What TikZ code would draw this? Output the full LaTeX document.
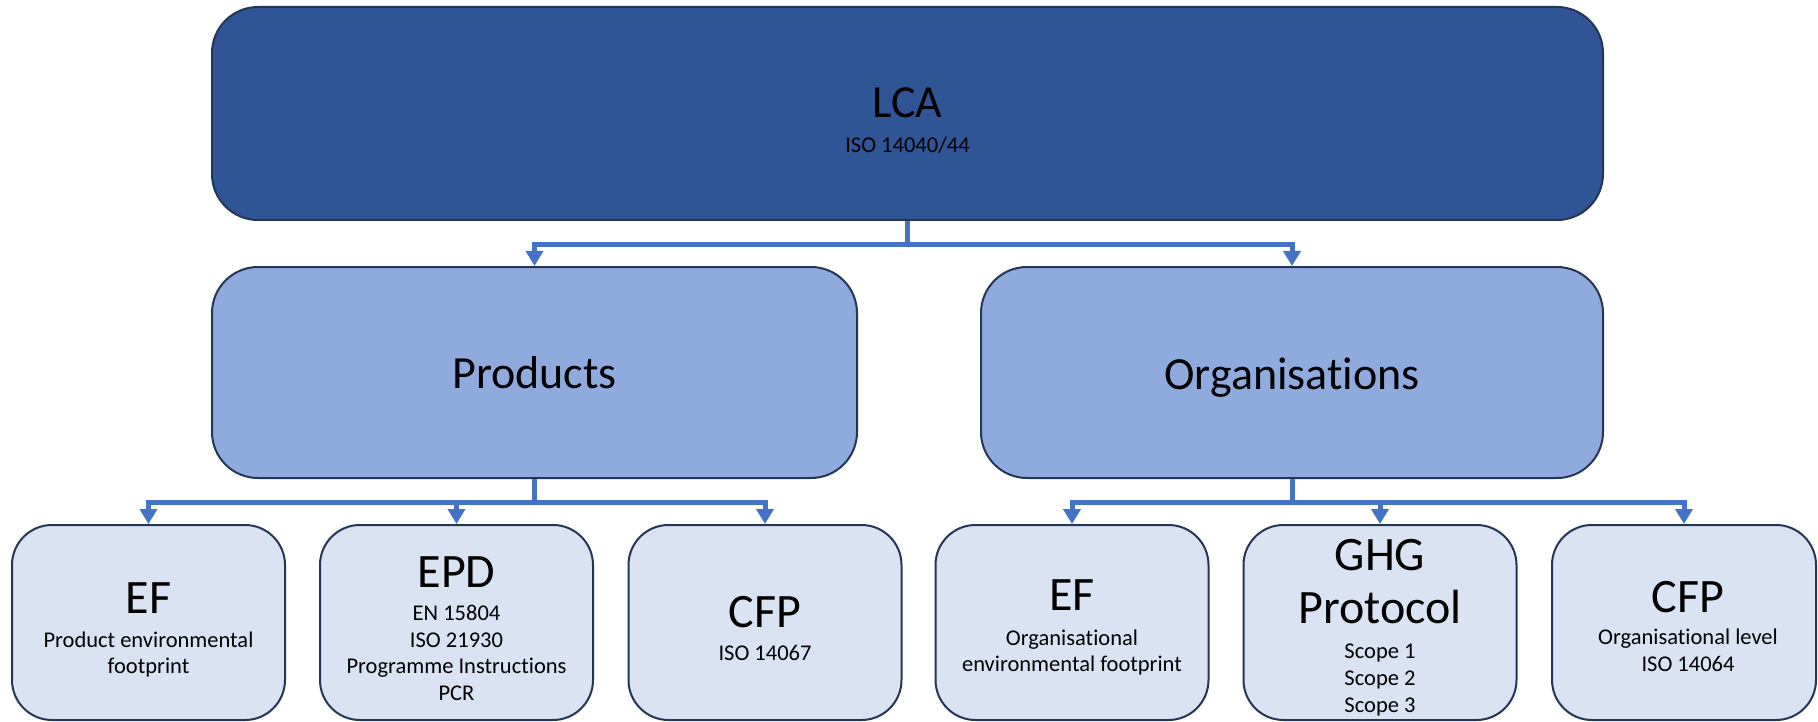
\documentclass[tikz,border=0pt]{standalone}
\usepackage{fontspec}
\setmainfont{Carlito}[RawFeature={-liga}]
\usetikzlibrary{arrows.meta}
\definecolor{lcafill}{HTML}{2F5597}
\definecolor{midfill}{HTML}{8FAADC}
\definecolor{lowfill}{HTML}{DAE3F3}
\definecolor{edgecol}{HTML}{243656}
\definecolor{conncol}{HTML}{4472C4}
\newcommand\fbig{\fontsize{46}{55}\selectfont}
\newcommand\ftitle{\fontsize{48}{57}\selectfont}
\newcommand\fsub{\fontsize{22.5}{27}\selectfont}
\tikzset{
  boxbase/.style={draw=edgecol, line width=2pt, inner sep=0pt},
  lcabox/.style={boxbase, fill=lcafill, rounded corners=46pt, minimum width=1391pt, minimum height=213pt},
  midbox/.style={boxbase, fill=midfill, rounded corners=46pt, minimum height=211pt},
  lowbox/.style={boxbase, fill=lowfill, rounded corners=40pt, minimum width=273pt, minimum height=195pt},
  txt/.style={anchor=base, inner sep=0pt, text=black},
  conn/.style={draw=conncol, line width=5pt},
  connarrow/.style={conn, -{Triangle[width=17pt,length=15pt]}},
}
\begin{document}
\begin{tikzpicture}[x=1pt,y=-1pt]
\useasboundingbox (0,0) rectangle (1818,722);
\clip (0,0) rectangle (1818,722);
\fill[white] (0,0) rectangle (1818,722);

% top
\node[lcabox] (lca) at (907.5,113.5) {};
\node[txt, font=\fbig] (lcaT) at (907.5,118) {LCA};
\node[txt, font=\fsub] (lcaS) at (907.5,153) {ISO 14040/44};

% middle
\node[midbox, minimum width=645pt] (prod) at (534.5,372.5) {};
\node[txt, font=\fbig] (prodT) at (534.5,388) {Products};
\node[midbox, minimum width=622pt] (org) at (1292,372.5) {};
\node[txt, font=\fbig] (orgT) at (1292,389) {Organisations};

% bottom boxes
\node[lowbox] (ef1) at (148.5,622.5) {};
\node[lowbox] (epd) at (456.5,622.5) {};
\node[lowbox] (cfp1) at (765,622.5) {};
\node[lowbox] (ef2) at (1072,622.5) {};
\node[lowbox] (ghg) at (1380,622.5) {};
\node[lowbox, minimum width=264pt] (cfp2) at (1684,622.5) {};

% bottom texts
\node[txt, font=\ftitle] (ef1T) at (148.5,613) {EF};
\node[txt, font=\fsub] (ef1S1) at (148.5,647) {Product environmental};
\node[txt, font=\fsub] (ef1S2) at (148.5,673) {footprint};

\node[txt, font=\ftitle] (epdT) at (456.5,587) {EPD};
\node[txt, font=\fsub] (epdS1) at (456.5,620) {EN 15804};
\node[txt, font=\fsub] (epdS2) at (456.5,647) {ISO 21930};
\node[txt, font=\fsub] (epdS3) at (456.5,673) {Programme Instructions};
\node[txt, font=\fsub] (epdS4) at (456.5,700) {PCR};

\node[txt, font=\ftitle] (cfp1T) at (765,627) {CFP};
\node[txt, font=\fsub] (cfp1S) at (765,660) {ISO 14067};

\node[txt, font=\ftitle] (ef2T) at (1072,610) {EF};
\node[txt, font=\fsub] (ef2S1) at (1072,645) {Organisational};
\node[txt, font=\fsub] (ef2S2) at (1072,671) {environmental footprint};

\node[txt, font=\ftitle] (ghgT1) at (1380,570) {GHG};
\node[txt, font=\ftitle] (ghgT2) at (1380,623) {Protocol};
\node[txt, font=\fsub] (ghgS1) at (1380,658) {Scope 1};
\node[txt, font=\fsub] (ghgS2) at (1380,685) {Scope 2};
\node[txt, font=\fsub] (ghgS3) at (1380,712) {Scope 3};

\node[txt, font=\ftitle] (cfp2T) at (1688,612) {CFP};
\node[txt, font=\fsub] (cfp2S1) at (1688,644) {Organisational level};
\node[txt, font=\fsub] (cfp2S2) at (1688,671) {ISO 14064};

% connectors
\draw[conn] (lca.south) -- ++(0,23.5);
\draw[connarrow] (lca.south) ++(0,23.5) -| (prod.north);
\draw[connarrow] (lca.south) ++(0,23.5) -| (org.north);

\draw[conn] (prod.south) -- ++(0,23.5);
\draw[connarrow] (prod.south) ++(0,23.5) -| (ef1.north);
\draw[connarrow] (prod.south) ++(0,23.5) -| (epd.north);
\draw[connarrow] (prod.south) ++(0,23.5) -| (cfp1.north);

\draw[conn] (org.south) -- ++(0,23.5);
\draw[connarrow] (org.south) ++(0,23.5) -| (ef2.north);
\draw[connarrow] (org.south) ++(0,23.5) -| (ghg.north);
\draw[connarrow] (org.south) ++(0,23.5) -| (cfp2.north);
\end{tikzpicture}
\end{document}
